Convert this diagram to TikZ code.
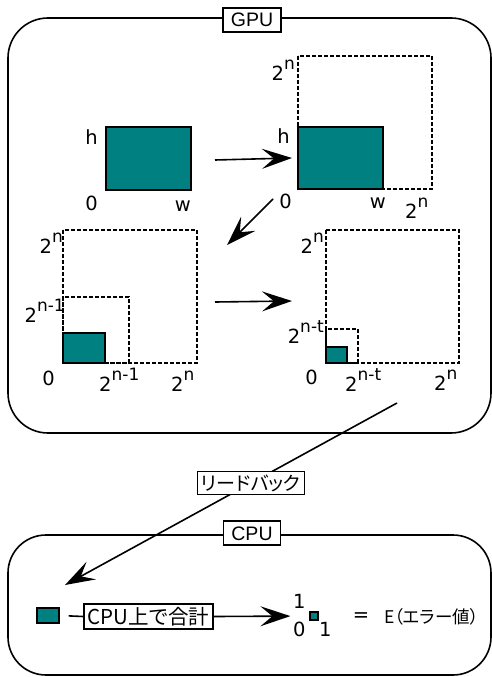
\documentclass[tikz,border=0pt]{standalone}
\usepackage{fontspec}
\setmainfont{Liberation Sans}
\newfontfamily\numfont{DejaVu Sans}
\newfontfamily\jpfont[RawFeature=+palt]{Noto Sans CJK JP}
\usetikzlibrary{arrows.meta}
\definecolor{texteal}{RGB}{0,128,128}
% power of two label: 2 with raised exponent
\newcommand{\pw}[1]{2\raisebox{11pt}{\fontsize{17}{17}\selectfont #1}}

\begin{document}
\begin{tikzpicture}[x=1pt, y=-1pt,
    frame/.style={draw, line width=1.6pt, rounded corners=40pt},
    tag/.style={draw, fill=white, line width=1.4pt, inner xsep=8pt, inner ysep=5pt,
                text height=14pt, text depth=0pt, font=\fontsize{19.5}{21}\selectfont},
    jtag/.style={draw, fill=white, line width=1.4pt, inner xsep=4pt, inner ysep=3pt,
                 font=\jpfont\fontsize{19}{21}\selectfont},
    tex/.style={draw=black, fill=texteal, line width=1.4pt},
    pad/.style={draw, dash pattern=on 4pt off 2pt, line width=1.4pt},
    lab/.style={inner sep=0pt, font=\numfont\fontsize{19.5}{21}\selectfont},
    line/.style={-{Stealth[length=30pt, width=20pt, inset=12pt]}, line width=1.6pt}]

    \useasboundingbox (0,0) rectangle (492,677);

    % GPU side
    \draw[frame] (8,18) rectangle (491,433);
    \node[tag] (gpu) at (252,20) {GPU};

    % original texture
    \draw[tex] (106,127) rectangle (191,190);
    \node[lab, anchor=base east] (h1) at (98,144) {h};
    \node[lab, anchor=base east] (o1) at (98,210) {0};
    \node[lab, anchor=base east] (w1) at (191,211) {w};

    % padded to 2^n
    \draw[pad] (298,56) rectangle (432,189);
    \draw[tex] (298,127) rectangle (383,189);
    \node[lab, anchor=base east] (n2) at (295,81) {\pw{n}};
    \node[lab, anchor=base east] (h2) at (290,143) {h};
    \node[lab, anchor=base east] (o2) at (292,208) {0};
    \node[lab, anchor=base east] (w2) at (386,208) {w};
    \node[lab, anchor=base west] (m2) at (405,218) {\pw{n}};

    % first reduction
    \draw[pad] (63,230) rectangle (197,363);
    \draw[pad] (63,297) rectangle (129,363);
    \draw[tex] (63,333) rectangle (105,363);
    \node[lab, anchor=base east] (n3) at (63,253) {\pw{n}};
    \node[lab, anchor=base east] (k3) at (65,322) {\pw{n-1}};
    \node[lab, anchor=base east] (o3) at (55,385) {0};
    \node[lab, anchor=base west] (j3) at (99,391) {\pw{n-1}};
    \node[lab, anchor=base west] (m3) at (171,391) {\pw{n}};

    % t-th reduction
    \draw[pad] (326,230) rectangle (459,363);
    \draw[pad] (326,329) rectangle (358,363);
    \draw[tex] (326,347) rectangle (347,363);
    \node[lab, anchor=base east] (n4) at (324,253) {\pw{n}};
    \node[lab, anchor=base east] (k4) at (324,343) {\pw{n-t}};
    \node[lab, anchor=base east] (o4) at (318,384) {0};
    \node[lab, anchor=base west] (j4) at (345,391) {\pw{n-t}};
    \node[lab, anchor=base west] (m4) at (434,390) {\pw{n}};

    \coordinate (a1s) at (215,160);
    \coordinate (a1e) at (292,158);
    \coordinate (a2s) at (273,199);
    \coordinate (a2e) at (227,245);
    \coordinate (a3s) at (215,302);
    \coordinate (a3e) at (292,301);
    \draw[line] (a1s) -- (a1e);
    \draw[line] (a2s) -- (a2e);
    \draw[line] (a3s) -- (a3e);

    % CPU side
    \draw[frame, rounded corners=38pt] (8,535) rectangle (491,675);
    \node[tag] (cpu) at (252,533) {CPU};

    \coordinate (rbs) at (397,403);
    \coordinate (rbe) at (65,585);
    \draw[line] (rbs) -- node[jtag, pos=0.44] (rb) {リードバック} (rbe);

    \node[tex, minimum width=22pt, minimum height=15pt, inner sep=0pt] (cpusq) at (48,615.5) {};
    \node[jtag, font=\jpfont\fontsize{20.5}{22}\selectfont] (sum) at (148.5,616.5) {CPU上で合計};
    \node[tex, minimum width=8pt, minimum height=8pt, inner sep=0pt, line width=1.2pt] (ressq) at (314,616) {};
    \node[lab, anchor=base west] (r1) at (293,608) {1};
    \node[lab, anchor=base west] (r0) at (293,636) {0};
    \node[lab, anchor=base west] (rx) at (319,636) {1};
    \node[lab] (eq) at (361,617) {=};
    \node[anchor=west, inner sep=0pt, font=\jpfont\fontsize{17.5}{19}\selectfont] (err) at (384,617) {E（エラー値）};
    \draw[line width=1.6pt, shorten <=9pt] (cpusq.east) -- (sum.west);
    \draw[line, shorten >=19pt] (sum.east) -- (ressq.west);
  \end{tikzpicture}
\end{document}
